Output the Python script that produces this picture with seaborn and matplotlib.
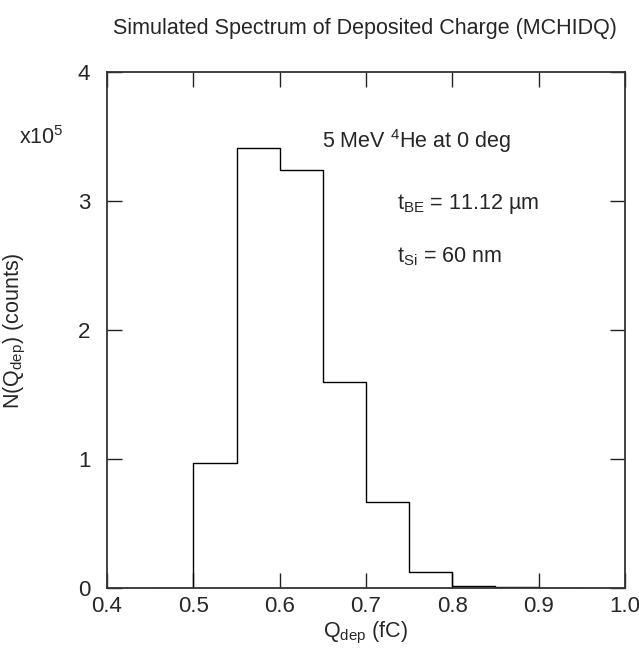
import numpy as np
import pandas as pd
import matplotlib
matplotlib.use("Agg")
import matplotlib.pyplot as plt
import seaborn as sns

# Histogram of deposited charge, bins of 0.05 fC (empty bins at each end
# so the outline drops to zero)
bin_edges = [0.45, 0.50, 0.55, 0.60, 0.65, 0.70, 0.75, 0.80, 0.85, 0.90, 0.95]
counts = [0, 97000, 341000, 324000, 160000, 67000, 12500, 1500, 600, 0]
x_ticks = [0.4, 0.5, 0.6, 0.7, 0.8, 0.9, 1.0]
y_ticks = [0, 1, 2, 3, 4]

sns.set_style("ticks")
plt.rcParams['font.family'] = ['Liberation Sans', 'DejaVu Sans']
plt.rcParams['mathtext.fontset'] = 'custom'
plt.rcParams['mathtext.rm'] = 'Liberation Sans'
plt.rcParams['mathtext.it'] = 'Liberation Sans'

centers = [(a + b) / 2 for a, b in zip(bin_edges[:-1], bin_edges[1:])]
df = pd.DataFrame({'q': centers, 'n': np.array(counts) / 1e5})

fig = plt.figure(figsize=(6.39, 6.57), dpi=100)
ax = fig.add_axes([0.1675, 0.105, 0.8105, 0.785])

sns.histplot(data=df, x='q', weights='n', bins=bin_edges, element='step',
             fill=False, color='black', linewidth=1.0, ax=ax)

ax.set_xlim(0.4, 1.0)
ax.set_ylim(0, 4)
ax.set_xticks(x_ticks)
ax.set_yticks(y_ticks)
ax.set_xticklabels([f"{t:.1f}" for t in x_ticks])
ax.set_yticklabels([str(t) for t in y_ticks])
ax.tick_params(direction='in', length=11, width=1.0, top=True, right=True,
               labelsize=16, color='#222222')
ax.tick_params(axis='x', pad=6)
ax.tick_params(axis='y', pad=12)
for s in ax.spines.values():
    s.set_linewidth(1.3)
    s.set_color('#333333')

ax.set_xlabel(r'Q$_{\rm dep}$ (fC)', fontsize=15.5)
ax.set_ylabel(r'N(Q$_{\rm dep}$) (counts)', fontsize=15.5)
ax.xaxis.set_label_coords(0.5, -0.062)
ax.yaxis.set_label_coords(-0.152, 0.5)

fig.text(0.571, 0.957, 'Simulated Spectrum of Deposited Charge (MCHIDQ)',
         ha='center', va='center', fontsize=15.5)
fig.text(0.03, 0.79, r'x10$^5$', ha='left', va='center', fontsize=15.5)

ax.text(0.649, 3.47, r'5 MeV $^4$He at 0 deg', ha='left', va='center', fontsize=15.5)
ax.text(0.736, 2.98, r't$_{\rm BE}$ = 11.12 µm', ha='left', va='center', fontsize=15.5)
ax.text(0.736, 2.57, r't$_{\rm Si}$ = 60 nm', ha='left', va='center', fontsize=15.5)

fig.savefig('out.png', dpi=100)
